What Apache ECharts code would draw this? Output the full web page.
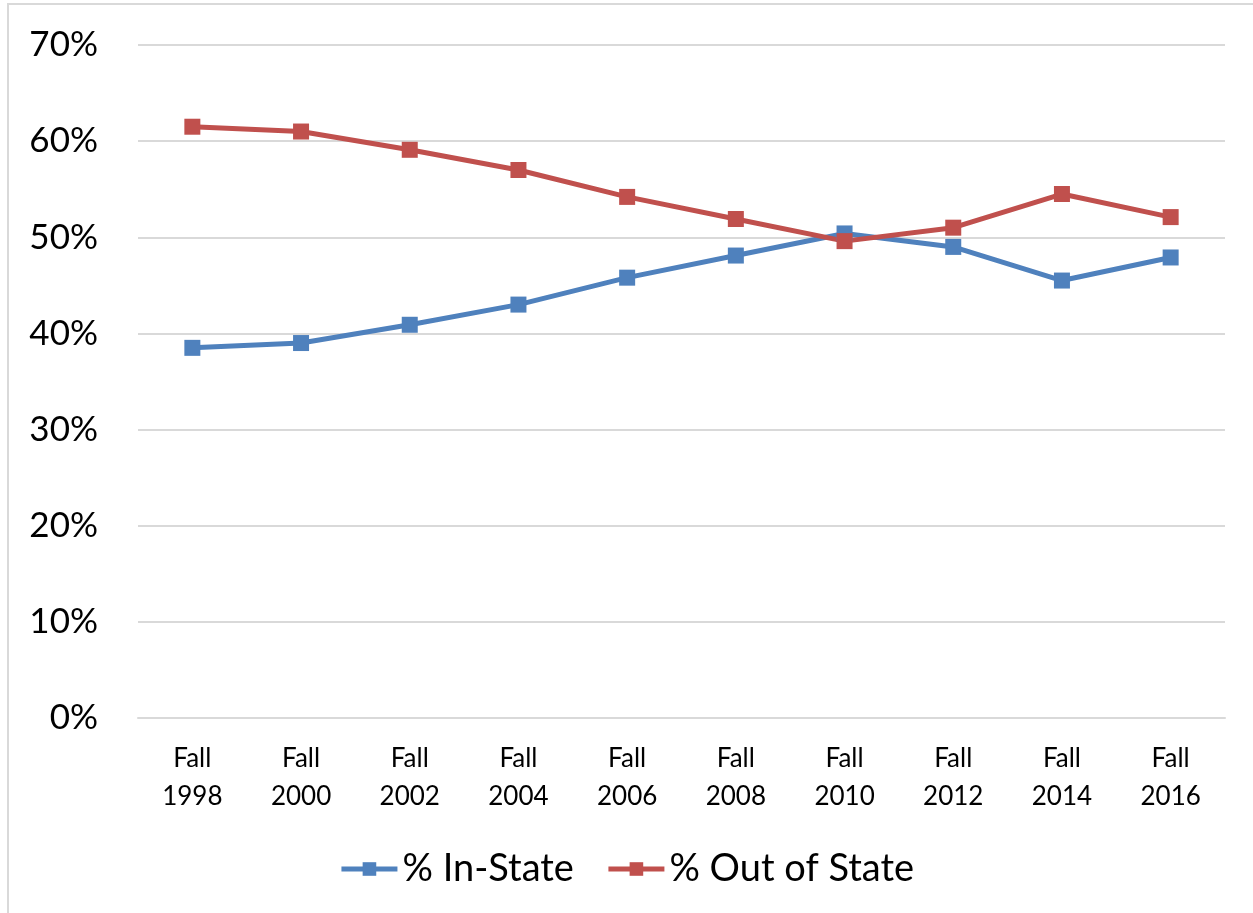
<!DOCTYPE html>
<html lang="en">

<head>
    <meta charset="UTF-8">
    <title>In-State vs Out of State</title>
    <script src="https://cdn.jsdelivr.net/npm/echarts@6/dist/echarts.min.js"></script>
    <style>
        html, body { margin: 0; padding: 0; background: #fff; }
        #frame {
            position: absolute; left: 7px; top: 3px; width: 1260px; height: 920px;
            border-left: 2px solid #d9d9d9; border-top: 2px solid #d9d9d9;
        }
        #main { position: absolute; left: 0; top: 0; width: 1253px; height: 913px; }
    </style>
</head>

<body>
    <div id="frame"></div>
    <div id="main"></div>
    <script>
        var years = ['Fall\n1998', 'Fall\n2000', 'Fall\n2002', 'Fall\n2004', 'Fall\n2006',
            'Fall\n2008', 'Fall\n2010', 'Fall\n2012', 'Fall\n2014', 'Fall\n2016'];
        var inState = [38.5, 39.0, 40.9, 43.0, 45.8, 48.1, 50.4, 49.0, 45.5, 47.9];
        var outState = [61.5, 61.0, 59.1, 57.0, 54.2, 51.9, 49.6, 51.0, 54.5, 52.1];

        var font = 'Lato, "Open Sans", sans-serif';
        var myChart = echarts.init(document.getElementById('main'));

        var option = {
            animation: false,
            grid: { left: 138, right: 28, top: 45, bottom: 195 },
            legend: {
                bottom: 20,
                left: 'center',
                itemWidth: 56,
                itemHeight: 17,
                itemGap: 32,
                lineStyle: { width: 5 },
                textStyle: { fontFamily: font, fontSize: 38, color: '#000' },
                data: ['% In-State', '% Out of State']
            },
            xAxis: {
                type: 'category',
                data: years,
                boundaryGap: true,
                axisLine: { lineStyle: { color: '#d9d9d9', width: 2 } },
                axisTick: { show: false },
                axisLabel: {
                    fontFamily: font, fontSize: 26, color: '#000',
                    lineHeight: 38, margin: 22, interval: 0
                }
            },
            yAxis: {
                type: 'value',
                min: 0, max: 70, interval: 10,
                axisLine: { show: false },
                axisTick: { show: false },
                splitLine: { lineStyle: { color: '#d9d9d9', width: 2 } },
                axisLabel: {
                    fontFamily: font, fontSize: 35, color: '#000', margin: 40,
                    formatter: '{value}%'
                }
            },
            series: [{
                name: '% In-State',
                type: 'line',
                data: inState,
                symbol: 'rect',
                symbolSize: 16,
                lineStyle: { color: '#4f81bd', width: 5 },
                itemStyle: { color: '#4f81bd' }
            }, {
                name: '% Out of State',
                type: 'line',
                data: outState,
                symbol: 'rect',
                symbolSize: 16,
                lineStyle: { color: '#c0504d', width: 5 },
                itemStyle: { color: '#c0504d' }
            }]
        };

        myChart.setOption(option);
    </script>
</body>

</html>
